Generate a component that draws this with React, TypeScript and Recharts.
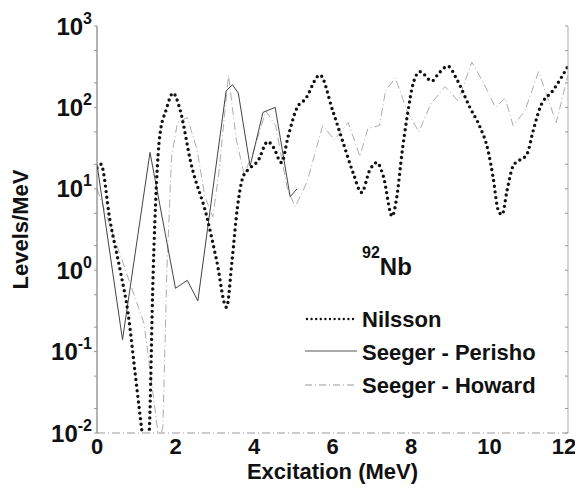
import React from "react";
import { LineChart, Line, XAxis, YAxis, Legend } from "recharts";

const FONT = '"Liberation Sans", Arial, Helvetica, sans-serif';

// Nilsson level density (dotted curve)
const nilssonE = [
  0, 0.1, 0.33, 0.59, 0.79, 0.97, 1.15, 1.25, 1.33, 1.43, 1.6, 1.76, 1.94, 2.1, 2.4, 2.8, 3.05, 3.3,
  3.44, 3.57, 3.72, 3.9, 4.1, 4.35, 4.5, 4.7, 4.87, 5.1, 5.3, 5.68, 6.0, 6.27, 6.53, 6.74, 6.95, 7.13,
  7.3, 7.52, 7.63, 7.78, 7.9, 8.06, 8.23, 8.53, 8.7, 8.94, 9.17, 9.5, 9.76, 9.96, 10.09, 10.22, 10.32,
  10.45, 10.6, 10.96, 11.1, 11.29, 11.62, 12,
];
const nilssonLevels = [
  18, 20, 4.1, 1, 0.3, 0.055, 0.01, 0.004, 0.01, 0.9, 45, 93, 150, 100, 20, 4.5, 1.3, 0.35,
  1.3, 5.5, 14, 18, 22, 38, 32, 21, 44, 100, 125, 250, 93, 37, 15.5, 9, 17, 21,
  14, 4.6, 7.5, 30, 76, 200, 275, 210, 260, 320, 220, 100, 57, 30, 14, 5.5, 4.8,
  9.7, 19, 27, 49, 100, 162, 320,
];

// Seeger - Perisho (thin solid)
const perishoE = [0, 0.65, 1.35, 2.0, 2.3, 2.57, 3.29, 3.45, 3.6, 3.9, 4.23, 4.54, 4.92, 5.1];
const perishoLevels = [20, 0.14, 28, 0.6, 0.75, 0.42, 160, 190, 150, 19, 87, 100, 8, 10];

// Seeger - Howard (dash-dot)
const howardE = [
  0, 0.6, 1.2, 1.45, 1.58, 1.68, 1.78, 1.9, 2.05, 2.3, 2.55, 2.75, 2.95, 3.1, 3.35, 3.55, 3.75, 4.0,
  4.3, 4.55, 4.85, 5.05, 5.35, 5.75, 6.05, 6.4, 6.7, 6.9, 7.2, 7.35, 7.6, 7.9, 8.2, 8.5, 8.87, 9.2,
  9.55, 9.85, 10.15, 10.4, 10.6, 10.9, 11.25, 11.7, 12,
];
const howardLevels = [
  10, 1.5, 0.22, 0.025, 0.008, 0.012, 1, 25, 65, 75, 30, 8, 4.5, 15, 250, 40, 15, 30,
  90, 60, 10, 6, 12, 60, 40, 65, 25, 55, 60, 160, 230, 90, 50, 110, 180, 120,
  360, 200, 100, 130, 60, 90, 275, 65, 250,
];

const xTicks = [0, 2, 4, 6, 8, 10, 12];
const decades = [-2, -1, 0, 1, 2, 3];
const yTicks = decades.flatMap((d) =>
  d === 3 ? [1000] : [1, 2, 3, 4, 5, 6, 7, 8, 9].map((m) => m * Math.pow(10, d))
);

const toPoints = (xs: number[], ys: number[]) => xs.map((x, i) => ({ x, y: ys[i] }));
const nilsson = toPoints(nilssonE, nilssonLevels);
const perisho = toPoints(perishoE, perishoLevels);
const howard = toPoints(howardE, howardLevels);

function PowTick({ x, y, payload }: any) {
  const exp = Math.log10(payload.value);
  if (Math.abs(exp - Math.round(exp)) > 1e-6) return <g />;
  return (
    <text x={x} y={y} textAnchor="end" fontFamily={FONT} fontWeight={700} fill="#111">
      <tspan dy="0.36em" fontSize={24}>10</tspan>
      <tspan dy={-11} fontSize={16}>{Math.round(exp)}</tspan>
    </text>
  );
}

function NbLegend() {
  const txt = { fontFamily: FONT, fontWeight: 700, fontSize: 22, fill: "#111" } as const;
  return (
    <svg width={270} height={160} style={{ display: "block" }}>
      <text x={57} y={35} fontFamily={FONT} fontWeight={700} fill="#111">
        <tspan fontSize={16} dy={-17}>92</tspan>
        <tspan fontSize={24} dy={17}>Nb</tspan>
      </text>
      <line x1={2} x2={52} y1={79} y2={79} stroke="#111" strokeWidth={2.4} strokeDasharray="0 4.6" strokeLinecap="round" />
      <text x={57} y={87} {...txt}>Nilsson</text>
      <line x1={0} x2={52} y1={111} y2={111} stroke="#555" strokeWidth={1} />
      <text x={57} y={120} {...txt}>Seeger - Perisho</text>
      <line x1={0} x2={52} y1={145} y2={145} stroke="#999" strokeWidth={1} strokeDasharray="7 3 1 3" />
      <text x={57} y={153} {...txt}>Seeger - Howard</text>
    </svg>
  );
}

export default function App() {
  return (
    <LineChart width={567} height={481} margin={{ top: 18, right: 7, bottom: 8, left: 0 }}>
      <XAxis
        type="number"
        dataKey="x"
        domain={[0, 12]}
        ticks={xTicks}
        allowDataOverflow
        height={48}
        tickSize={0}
        tickMargin={5}
        axisLine={{ stroke: "#999", strokeDasharray: "8 3 1 3" }}
        tick={{ fontSize: 22, fontWeight: 700, fill: "#111", fontFamily: FONT }}
        label={{
          value: "Excitation (MeV)",
          position: "insideBottom",
          offset: 2,
          style: { fontSize: 22, fontWeight: 700, fill: "#111", fontFamily: FONT },
        }}
      />
      <XAxis
        xAxisId="top"
        orientation="top"
        type="number"
        domain={[0, 12]}
        height={0}
        tick={false}
        tickLine={false}
        axisLine={{ stroke: "#aaa", strokeDasharray: "10 4 1 4" }}
      />
      <YAxis
        type="number"
        scale="log"
        domain={[0.01, 1000]}
        ticks={yTicks}
        allowDataOverflow
        width={89}
        tickSize={3}
        tickMargin={2}
        tick={<PowTick />}
        tickLine={{ stroke: "#999" }}
        axisLine={{ stroke: "#666" }}
        label={{
          value: "Levels/MeV",
          angle: -90,
          position: "insideLeft",
          offset: 12,
          style: { textAnchor: "middle", fontSize: 22, fontWeight: 700, fill: "#111", fontFamily: FONT },
        }}
      />
      <YAxis
        yAxisId="right"
        orientation="right"
        type="number"
        scale="log"
        domain={[0.01, 1000]}
        ticks={yTicks}
        allowDataOverflow
        width={7}
        mirror
        tickSize={3}
        tick={() => <g />}
        tickLine={{ stroke: "#999" }}
        axisLine={{ stroke: "#aaa" }}
      />
      <Line
        data={howard}
        dataKey="y"
        name="Seeger - Howard"
        type="linear"
        stroke="#adadad"
        strokeWidth={1}
        strokeDasharray="8 3 1 3"
        dot={false}
        isAnimationActive={false}
      />
      <Line
        data={perisho}
        dataKey="y"
        name="Seeger - Perisho"
        type="linear"
        stroke="#444"
        strokeWidth={1}
        dot={false}
        isAnimationActive={false}
      />
      <Line
        data={nilsson}
        dataKey="y"
        name="Nilsson"
        type="monotone"
        stroke="#111"
        strokeWidth={3.4}
        strokeDasharray="0 5.6"
        strokeLinecap="round"
        dot={false}
        isAnimationActive={false}
      />
      <Legend
        layout="vertical"
        align="center"
        verticalAlign="middle"
        content={() => <NbLegend />}
        wrapperStyle={{ position: "absolute", left: 297, top: 232, width: 270, height: 160 }}
      />
    </LineChart>
  );
}
